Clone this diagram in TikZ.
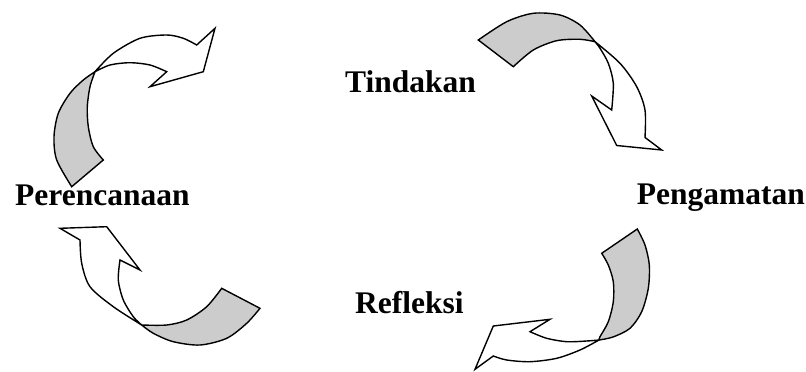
\documentclass[tikz,border=0pt]{standalone}
\usepackage{fontspec}
\setmainfont{Liberation Serif}
\definecolor{tailgray}{RGB}{204,204,204}
\tikzset{
  tailpart/.style={draw=black, fill=tailgray, line width=1.4pt, line join=miter},
  headpart/.style={draw=black, fill=white, line width=1.4pt, line join=miter},
  lbl/.style={font=\fontsize{31.5}{36}\selectfont\bfseries, inner sep=0pt, anchor=base west}
}
\begin{document}
\begin{tikzpicture}[x=1pt,y=-1pt]
\useasboundingbox (0,0) rectangle (806,372);
% ---------- arrow 1 (top left) ----------
\path[tailpart] plot[smooth] coordinates {(71.7,186.7) (56.7,160) (54,136.7) (58.3,113.3) (70,93.3) (83.3,80) (95,71.7)}
  -- plot[smooth] coordinates {(95,71.7) (90,86.7) (87.3,106.7) (88.3,126.7) (93.3,146.7) (103.3,160)} -- cycle;
\path[headpart] plot[smooth] coordinates {(95,71.7) (113.3,53.3) (140,38.3) (166.7,35) (183.3,38.3) (196.7,45)}
  -- (215,28.3) -- (203.3,71.7) -- (150,86.7) -- (166.7,71.7)
  -- plot[smooth] coordinates {(166.7,71.7) (150,65) (130,62.7) (110,65) (95,71.7)} -- cycle;
% ---------- arrow 2 (top right) ----------
\path[tailpart] plot[smooth] coordinates {(478.3,40) (506.7,21.7) (533.3,13.3) (560,15) (580,25) (595,41.7)}
  -- plot[smooth] coordinates {(595,41.7) (580,39.3) (556.7,40.7) (533.3,50) (513.3,66.7)} -- cycle;
\path[headpart] plot[smooth] coordinates {(595,41.7) (620,63.3) (636.7,86.7) (645,110) (645,137.5)}
  -- (661.7,150) -- (616.7,145.5) -- (591.7,96) -- (611.7,110)
  -- plot[smooth] coordinates {(611.7,110) (613.3,83.3) (608.3,63.3) (600,48.3) (595,41.7)} -- cycle;
% ---------- arrow 3 (bottom right) ----------
\path[tailpart] plot[smooth] coordinates {(637.3,229) (645,245) (649.3,265) (648.3,288.3) (641.7,311.7) (630,328.3) (613,337) (599,340)}
  -- plot[smooth] coordinates {(599,340) (600,336.7) (608.3,321.7) (613.3,301.7) (613.3,281.7) (608.3,265) (601.7,253.3)} -- cycle;
\path[headpart] plot[smooth] coordinates {(599,340) (580,350) (556.7,358.3) (530,361.7) (506.7,360) (493.3,356)}
  -- (475,369.3) -- (493.3,326) -- (550,319.3) -- (530,331.7)
  -- plot[smooth] coordinates {(530,331.7) (546.7,338.3) (566.7,341.7) (586.7,341) (599,340)} -- cycle;
% ---------- arrow 4 (bottom left) ----------
\path[tailpart] plot[smooth] coordinates {(260,308.3) (246.7,323.3) (226.7,338.3) (200,345) (173.3,341.7) (153.3,333.3) (141.7,325)}
  -- plot[smooth] coordinates {(141.7,325) (166.7,325) (186.7,320) (206.7,306.7) (221.7,288.3)} -- cycle;
\path[headpart] plot[smooth] coordinates {(141.7,325) (113.3,306.7) (90,286.7) (81.7,263.3) (80,240)}
  -- (60,228.3) -- (106.7,226.7) -- (140,270) -- (120,260)
  -- plot[smooth] coordinates {(120,260) (118.3,280) (123.3,300) (133.3,316.7) (141.7,325)} -- cycle;
% ---------- labels ----------
\node[lbl] (tindakan) at (345,92.7) {Tindakan};
\node[lbl] (perencanaan) at (15,205) {Perencanaan};
\node[lbl] (pengamatan) at (636.7,204.3) {Pengamatan};
\node[lbl] (refleksi) at (355,313.3) {Refleksi};
\end{tikzpicture}
\end{document}
